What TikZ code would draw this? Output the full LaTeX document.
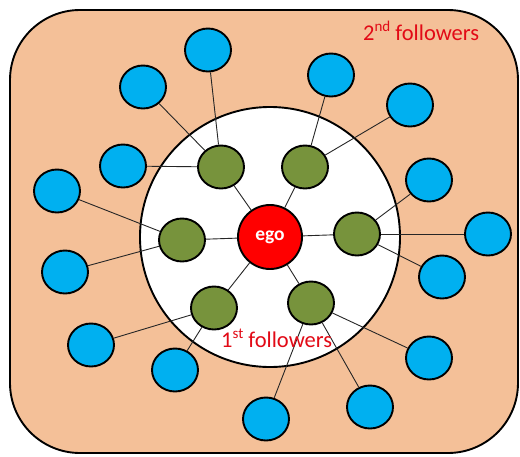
\documentclass[tikz,border=0pt]{standalone}
\usepackage{fontspec}
\setmainfont{Carlito}
\usetikzlibrary{shapes.geometric}
\definecolor{peach}{RGB}{244,192,152}
\definecolor{skyblue}{RGB}{0,176,240}
\definecolor{olive}{RGB}{119,147,60}
\definecolor{egored}{RGB}{255,0,0}
\definecolor{labelred}{RGB}{226,10,22}
% raised ordinal suffix, a little larger than the default superscript
\newcommand\ordsuf[1]{\raisebox{0.36em}{\fontsize{15}{15}\selectfont #1}}
\tikzset{
  outline/.style={draw=black, line width=1.9pt},
  second/.style={ellipse, outline, fill=skyblue, minimum width=46pt, minimum height=43pt, inner sep=0pt},
  first/.style={ellipse, outline, fill=olive, minimum width=46pt, minimum height=43pt, inner sep=0pt},
  egonode/.style={circle, outline, fill=egored, minimum size=64pt, inner sep=0pt,
    text=white, font=\fontsize{19.5}{22}\selectfont\bfseries},
  link/.style={draw=black!85, line width=0.9pt},
  tag/.style={text=labelred, font=\fontsize{22.5}{26}\selectfont, inner sep=0pt, anchor=base west}
}
\begin{document}
\begin{tikzpicture}[x=1pt, y=-1pt]
\useasboundingbox (0,0) rectangle (520,456);
% outer region and inner ring
\draw[outline, fill=peach, rounded corners=70pt] (10,10) rectangle (518,453);
\draw[outline, fill=white] (270,237) circle (130);
% ego and first followers
\node[egonode] (ego) at (270,237) {ego};
\node[first] (g1) at (221,167) {};
\node[first] (g2) at (305,167) {};
\node[first] (g3) at (357,234) {};
\node[first] (g4) at (182,240) {};
\node[first] (g5) at (214,308) {};
\node[first] (g6) at (311,303) {};
% second followers
\node[second] (b1) at (208,50) {};
\node[second] (b2) at (143,87) {};
\node[second] (b3) at (123,166) {};
\node[second] (b4) at (57,191) {};
\node[second] (b5) at (65,272) {};
\node[second] (b6) at (91,345) {};
\node[second] (b7) at (175,370) {};
\node[second] (b8) at (266,419) {};
\node[second] (b9) at (370,407) {};
\node[second] (b10) at (429,358) {};
\node[second] (b11) at (442,277) {};
\node[second] (b12) at (488,234) {};
\node[second] (b13) at (429,180) {};
\node[second] (b14) at (410,105) {};
\node[second] (b15) at (331,75) {};
% links
\foreach \g in {g1,g2,g3,g4,g5,g6} \draw[link] (ego) -- (\g);
\draw[link] (g1) -- (b1);
\draw[link] (g1) -- (b2);
\draw[link] (g1) -- (b3);
\draw[link] (g4) -- (b4);
\draw[link] (g4) -- (b5);
\draw[link] (g5) -- (b6);
\draw[link] (g5) -- (b7);
\draw[link] (g6) -- (b8);
\draw[link] (g6) -- (b9);
\draw[link] (g6) -- (b10);
\draw[link] (g3) -- (b11);
\draw[link] (g3) -- (b12);
\draw[link] (g3) -- (b13);
\draw[link] (g2) -- (b14);
\draw[link] (g2) -- (b15);
% labels
\node[tag] (lab2) at (363,40) {2\ordsuf{nd} followers};
\node[tag] (lab1) at (221,347) {1\ordsuf{st} followers};
\end{tikzpicture}
\end{document}
